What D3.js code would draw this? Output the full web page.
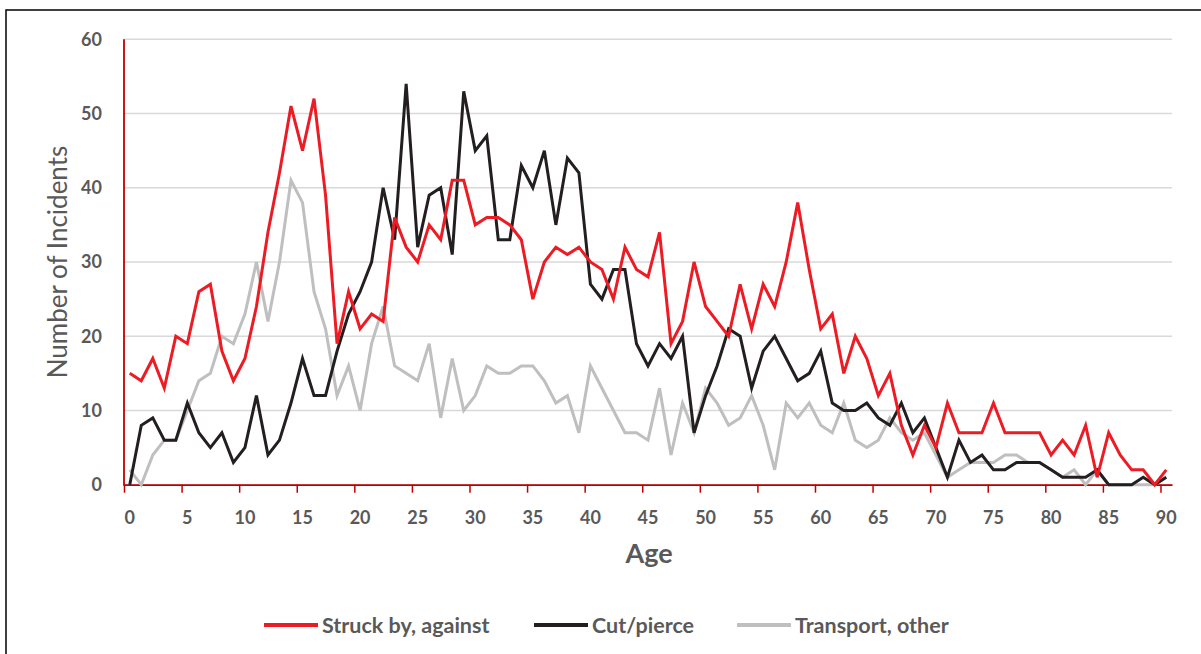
<!DOCTYPE html>
<html>
<head>
<meta charset="utf-8">
<script src="https://cdn.jsdelivr.net/npm/d3@7"></script>
<style>
  body { margin: 0; background: #fff; }
  text { font-family: Lato, "Liberation Sans", sans-serif; fill: #595959; }
</style>
</head>
<body>
<svg width="1201" height="654"></svg>
<script>
const svg = d3.select('svg');

// ages 0..90, one point per age
const ages = d3.range(0, 91);

const struck = [15, 14, 17, 13, 20, 19, 26, 27, 18, 14, 17, 24, 34, 42, 51, 45, 52, 39, 19, 26,
  21, 23, 22, 36, 32, 30, 35, 33, 41, 41, 35, 36, 36, 35, 33, 25, 30, 32, 31, 32,
  30, 29, 25, 32, 29, 28, 34, 19, 22, 30, 24, 22, 20, 27, 21, 27, 24, 30, 38, 29,
  21, 23, 15, 20, 17, 12, 15, 8, 4, 8, 5, 11, 7, 7, 7, 11, 7, 7, 7, 7,
  4, 6, 4, 8, 1, 7, 4, 2, 2, 0, 2];

const cut = [0, 8, 9, 6, 6, 11, 7, 5, 7, 3, 5, 12, 4, 6, 11, 17, 12, 12, 18, 23,
  26, 30, 40, 33, 54, 32, 39, 40, 31, 53, 45, 47, 33, 33, 43, 40, 45, 35, 44, 42,
  27, 25, 29, 29, 19, 16, 19, 17, 20, 7, 12, 16, 21, 20, 13, 18, 20, 17, 14, 15,
  18, 11, 10, 10, 11, 9, 8, 11, 7, 9, 5, 1, 6, 3, 4, 2, 2, 3, 3, 3,
  2, 1, 1, 1, 2, 0, 0, 0, 1, 0, 1];

const transport = [2, 0, 4, 6, 6, 10, 14, 15, 20, 19, 23, 30, 22, 30, 41, 38, 26, 21, 12, 16,
  10, 19, 24, 16, 15, 14, 19, 9, 17, 10, 12, 16, 15, 15, 16, 16, 14, 11, 12, 7,
  16, 13, 10, 7, 7, 6, 13, 4, 11, 7, 13, 11, 8, 9, 12, 8, 2, 11, 9, 11,
  8, 7, 11, 6, 5, 6, 9, 7, 6, 7, 4, 1, 2, 3, 3, 3, 4, 4, 3, 3,
  2, 1, 2, 0, 2, 0, 0, 0, 0, 0, 1];

const seriesNames = ['Struck by, against', 'Cut/pierce', 'Transport, other'];
const seriesColors = ['#ed1c24', '#231f20', '#bfbfbf'];
const yTicks = [0, 10, 20, 30, 40, 50, 60];
const xLabels = d3.range(0, 91, 5);

// drawn back to front: grey first, red on top
const series = [transport, cut, struck].map((vals, i) => ({
  name: seriesNames[2 - i],
  color: seriesColors[2 - i],
  values: vals
}));

// category axis: each age gets a slot, points sit in the middle of it
const x = d3.scaleLinear().domain([-0.5, 90.5]).range([124, 1172]);
const y = d3.scaleLinear().domain([0, 60]).range([484.7, 39.3]);

// outer border (runs off the right and bottom edge like the original)
svg.append('rect')
  .attr('x', 6).attr('y', 10)
  .attr('width', 1210).attr('height', 700)
  .attr('fill', 'none')
  .attr('stroke', '#000')
  .attr('stroke-width', 1.5);

// gridlines
svg.append('g')
  .selectAll('line')
  .data(yTicks)
  .join('line')
  .attr('x1', x.range()[0]).attr('x2', x.range()[1])
  .attr('y1', d => y(d)).attr('y2', d => y(d))
  .attr('stroke', '#d9d9d9')
  .attr('stroke-width', 1.5);

// y tick labels
svg.append('g')
  .selectAll('text')
  .data(yTicks)
  .join('text')
  .attr('x', 102)
  .attr('y', d => y(d))
  .attr('dy', '0.35em')
  .attr('text-anchor', 'end')
  .style('font-size', '18px')
  .style('font-weight', 'bold')
  .text(d => d);

// x axis, ticks fall between categories every 5 ages
const xAxis = d3.axisBottom(x)
  .tickValues(d3.range(0, 19).map(k => k * 5 - 0.5))
  .tickSize(8)
  .tickSizeOuter(0)
  .tickFormat('');

const gx = svg.append('g')
  .attr('transform', `translate(0,${y(0)})`)
  .call(xAxis);
gx.select('.domain').attr('stroke', '#c00000').attr('stroke-width', 1.8);
gx.selectAll('.tick line').attr('stroke', '#c00000').attr('stroke-width', 1.5);

svg.append('g')
  .selectAll('text')
  .data(xLabels)
  .join('text')
  .attr('x', d => x(d))
  .attr('y', 524)
  .attr('text-anchor', 'middle')
  .style('font-size', '18px')
  .style('font-weight', 'bold')
  .text(d => d);

// y axis line
svg.append('line')
  .attr('x1', x(-0.5)).attr('x2', x(-0.5))
  .attr('y1', y(60)).attr('y2', y(0) + 1)
  .attr('stroke', '#c00000')
  .attr('stroke-width', 1.8);

// lines
const line = d3.line()
  .x((d, i) => x(ages[i]))
  .y(d => y(d));

svg.append('g')
  .selectAll('path')
  .data(series)
  .join('path')
  .attr('d', d => line(d.values))
  .attr('fill', 'none')
  .attr('stroke', d => d.color)
  .attr('stroke-width', 3)
  .attr('stroke-linejoin', 'miter');

// axis titles
svg.append('text')
  .attr('transform', 'translate(67,262) rotate(-90)')
  .attr('text-anchor', 'middle')
  .style('font-size', '26px')
  .text('Number of Incidents');

svg.append('text')
  .attr('x', 649)
  .attr('y', 563)
  .attr('text-anchor', 'middle')
  .style('font-size', '27px')
  .style('font-weight', 'bold')
  .text('Age');

// legend
const legendX = [264, 534, 737];
const legend = svg.append('g')
  .selectAll('g')
  .data(seriesNames)
  .join('g')
  .attr('transform', (d, i) => `translate(${legendX[i]},625)`);

legend.append('line')
  .attr('x1', 0).attr('x2', 54)
  .attr('stroke', (d, i) => seriesColors[i])
  .attr('stroke-width', 4);

legend.append('text')
  .attr('x', 58)
  .attr('dy', '0.35em')
  .style('font-size', '21.5px')
  .style('font-weight', 'bold')
  .text(d => d);
</script>
</body>
</html>
